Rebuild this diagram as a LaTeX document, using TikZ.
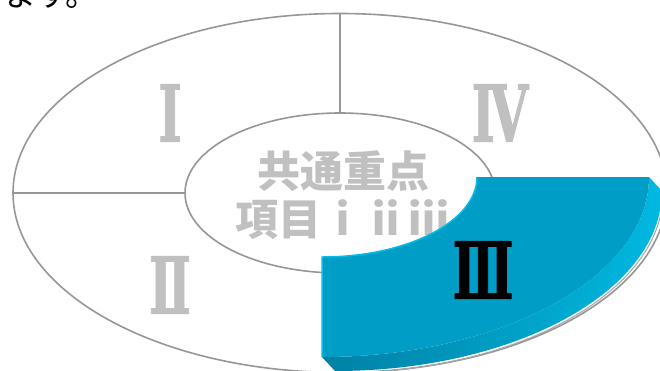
\documentclass[tikz,border=0pt]{standalone}
\usepackage{fontspec}
\usepackage{graphicx}
\usetikzlibrary{shapes.geometric}
\newfontfamily\jp{Noto Sans CJK JP}
\newfontfamily\romfont{DejaVu Serif}[BoldFeatures={FakeBold=1.6}]
\definecolor{ringgray}{RGB}{150,150,150}
\definecolor{numgray}{RGB}{192,192,192}
\definecolor{topblue}{RGB}{0,158,198}
\definecolor{bandL}{RGB}{0,128,165}
\definecolor{bandR}{RGB}{0,185,225}
\definecolor{hilite}{RGB}{0,190,232}
\newcommand{\romnum}[1]{\scalebox{0.64}[1]{#1}}
\begin{document}
\begin{tikzpicture}[x=1pt,y=-1pt,
  ring/.style={ellipse, draw=ringgray, line width=1.6pt, inner sep=0pt},
  divider/.style={draw=ringgray, line width=1.6pt},
  numeral/.style={text=numgray, font=\romfont\bfseries\fontsize{78}{78}\selectfont, inner sep=0pt},
  centertext/.style={text=numgray, font=\jp\bfseries\fontsize{43}{48}\selectfont, align=center, inner sep=0pt},
  toptext/.style={text=black, font=\jp\fontsize{33}{33}\selectfont, inner sep=0pt, anchor=base west}]
\useasboundingbox (0,0) rectangle (660,370);
\clip (0,0) rectangle (660,370);
% partial text at top edge
\node[toptext] (masu) at (3,6) {ます。};
% rings
\node[ring, minimum width=654pt, minimum height=359pt] (outer) at (340,193) {};
\node[ring, minimum width=310pt, minimum height=160pt] (inner) at (340,193) {};
\draw[divider] (outer.north) -- (inner.north);
\draw[divider] (outer.west) -- (inner.west);
% numerals
\node[numeral] (n1) at (170,113) {\romnum{Ⅰ}};
\node[numeral] (n4) at (500,113) {\romnum{Ⅳ}};
\node[numeral] (n2) at (170,285) {\romnum{Ⅱ}};
\node[centertext] (ctr) at (343,195) {共通重点\\項目ⅰⅱⅲ};
% exploded 3D segment
\draw[gray!70, line width=1pt] (663,193) arc [start angle=0,end angle=90,x radius=327,y radius=180];
\shade[left color=bandL, right color=bandR] (662,191) arc [start angle=0,end angle=90,x radius=327,y radius=180] -- (322,357) arc [start angle=90,end angle=0,x radius=327,y radius=180] -- cycle;
\fill[topblue] (477,177) -- (649,177) arc [start angle=0,end angle=90,x radius=327,y radius=180] -- (322,257) arc [start angle=90,end angle=0,x radius=155,y radius=80] -- cycle;
\draw[hilite, line width=1.5pt] (322,357) -- (322,257) arc [start angle=90,end angle=0,x radius=155,y radius=80];
\node[numeral, text=black] (n3) at (483,270) {\romnum{Ⅲ}};
\end{tikzpicture}
\end{document}
